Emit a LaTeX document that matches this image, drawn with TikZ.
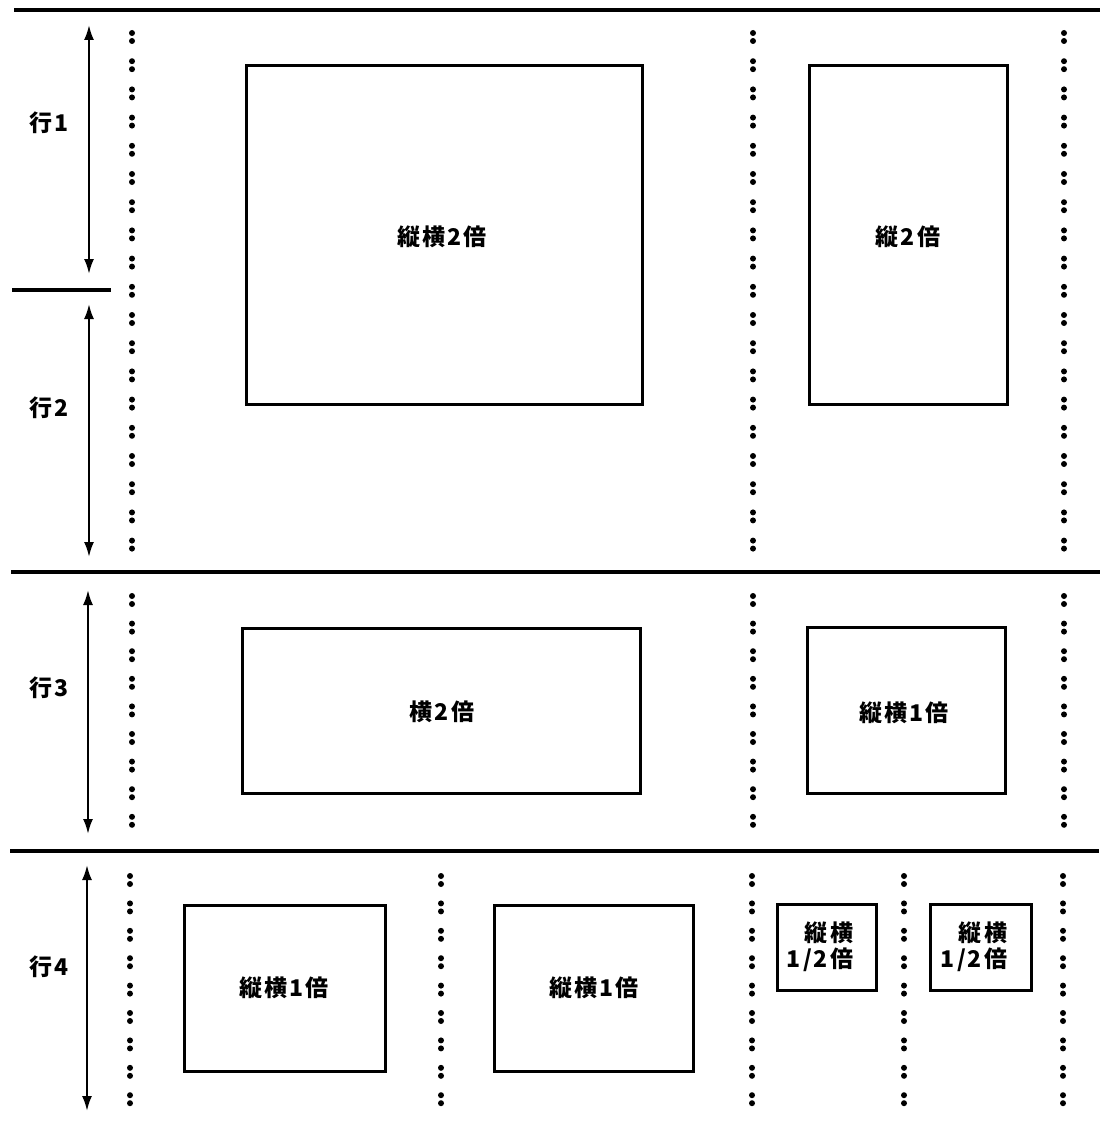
\documentclass[tikz,border=0pt]{standalone}
\usepackage{fontspec}
\newfontfamily\jp{Noto Sans CJK JP}[LetterSpace=9]
\usetikzlibrary{arrows.meta}
\begin{document}
\begin{tikzpicture}[x=1pt,y=-1pt,
  txt/.style={font=\jp\bfseries\fontsize{23}{26}\selectfont},
  frame/.style={draw, line width=3pt, inner sep=0pt, txt},
  rule/.style={line width=3.5pt},
  dim/.style={line width=2.2pt, {Latex[length=15pt,width=10pt]}-{Latex[length=15pt,width=10pt]}},
  lbl/.style={txt}]
\useasboundingbox (0,0) rectangle (1106,1124);
% horizontal rules
\coordinate (t0) at (14,10);   \coordinate (t1) at (1100,10);
\coordinate (s0) at (12,290);  \coordinate (s1) at (111,290);
\coordinate (m0) at (11,572);  \coordinate (m1) at (1100,572);
\coordinate (n0) at (10,851);  \coordinate (n1) at (1099,851);
\draw[rule] (t0) -- (t1);
\draw[rule] (s0) -- (s1);
\draw[rule] (m0) -- (m1);
\draw[rule] (n0) -- (n1);
% row arrows
\coordinate (a1t) at (89,25);  \coordinate (a1b) at (89,274);
\coordinate (a2t) at (89,304); \coordinate (a2b) at (89,557);
\coordinate (a3t) at (88,590); \coordinate (a3b) at (88,834);
\coordinate (a4t) at (87,865); \coordinate (a4b) at (87,1111);
\draw[dim] (a1t) -- (a1b);
\draw[dim] (a2t) -- (a2b);
\draw[dim] (a3t) -- (a3b);
\draw[dim] (a4t) -- (a4b);
% row labels
\node[lbl] (l1) at (49,123) {行1};
\node[lbl] (l2) at (49,408) {行2};
\node[lbl] (l3) at (49,688) {行3};
\node[lbl] (l4) at (49,967) {行4};
% dotted columns (colons)
\foreach \x in {132,753,1064}{
  \foreach \i in {0,...,18}{
    \fill ({\x},{37+28.2*\i-4}) circle (3);
    \fill ({\x},{37+28.2*\i+4}) circle (3);
  }
  \foreach \i in {0,...,8}{
    \fill ({\x},{600+27.6*\i-4}) circle (3);
    \fill ({\x},{600+27.6*\i+4}) circle (3);
  }
}
\foreach \x in {130,441,752,904,1063}{
  \foreach \i in {0,...,8}{
    \fill ({\x},{880+27.4*\i-4}) circle (3);
    \fill ({\x},{880+27.4*\i+4}) circle (3);
  }
}
% boxes
\node[frame, minimum width=396pt, minimum height=338pt] (b1) at (444,235) {};
\node[txt] (b1t) at (442,237) {縦横2倍};
\node[frame, minimum width=198pt, minimum height=338pt] (b2) at (908,235) {};
\node[txt] (b2t) at (908,237) {縦2倍};
\node[frame, minimum width=398pt, minimum height=165pt] (b3) at (441,710.5) {};
\node[txt] (b3t) at (442,712) {横2倍};
\node[frame, minimum width=198pt, minimum height=166pt] (b4) at (906,710) {};
\node[txt] (b4t) at (904,713) {縦横1倍};
\node[frame, minimum width=201pt, minimum height=166pt] (b5) at (284.5,988) {};
\node[txt] (b5t) at (284,988) {縦横1倍};
\node[frame, minimum width=199pt, minimum height=166pt] (b6) at (593.5,988) {};
\node[txt] (b6t) at (594,988) {縦横1倍};
\node[frame, minimum width=99pt, minimum height=86pt] (b7) at (826.5,947) {};
\node[txt, align=right, inner sep=0pt] (b7t) at (820,947) {縦横\\1/2倍};
\node[frame, minimum width=101pt, minimum height=86pt] (b8) at (980.5,947) {};
\node[txt, align=right, inner sep=0pt] (b8t) at (974,947) {縦横\\1/2倍};
\end{tikzpicture}
\end{document}
